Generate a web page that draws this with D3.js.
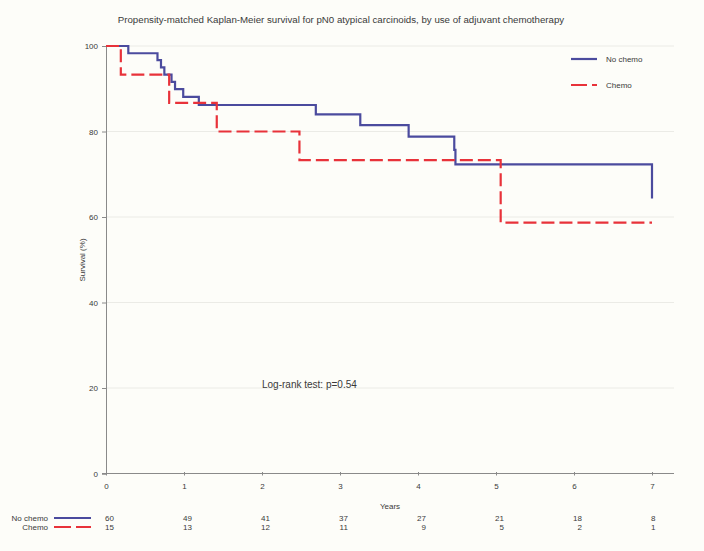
<!DOCTYPE html>
<html>
<head>
<meta charset="utf-8">
<script src="https://cdn.jsdelivr.net/npm/d3@7"></script>
<style>
  html, body { margin: 0; padding: 0; background: #fdfdf9; }
  svg { display: block; font-family: Arial, "Liberation Sans", sans-serif; }
</style>
</head>
<body>
<div id="chart"></div>
<script>
// ---- data ----
const title = "Propensity-matched Kaplan-Meier survival for pN0 atypical carcinoids, by use of adjuvant chemotherapy";
const seriesNames = ["No chemo", "Chemo"];
const noChemoTimes = [0, 0.286, 0.66, 0.705, 0.748, 0.84, 0.885, 0.99, 1.19, 2.69, 3.26, 3.88, 4.465, 4.48, 7.0];
const noChemoSurv  = [100, 98.3, 96.7, 95.0, 93.3, 91.6, 89.9, 88.1, 86.2, 84.0, 81.5, 78.8, 75.7, 72.3, 64.3];
const chemoTimes = [0, 0.19, 0.81, 1.42, 2.48, 5.06, 7.0];
const chemoSurv  = [100, 93.3, 86.7, 80.0, 73.3, 58.7, 58.7];
const xTicks = [0, 1, 2, 3, 4, 5, 6, 7];
const yTicks = [0, 20, 40, 60, 80, 100];
const atRiskNoChemo = [60, 49, 41, 37, 27, 21, 18, 8];
const atRiskChemo   = [15, 13, 12, 11, 9, 5, 2, 1];
const annotation = "Log-rank test: p=0.54";

// ---- layout ----
const W = 704, H = 551;
const svg = d3.select("#chart").append("svg").attr("width", W).attr("height", H);
svg.append("rect").attr("width", W).attr("height", H).attr("fill", "#fdfdf9");

const x = d3.scaleLinear().domain([0, 7]).range([106, 652]);
const y = d3.scaleLinear().domain([0, 100]).range([473.5, 46]);
const gridRight = 674;
const textColor = "#3a3a3a";
const axisColor = "#8a8a8a";
const blue = "#4b4b9e";
const red = "#e8323a";
const fontFam = "Arial, 'Liberation Sans', sans-serif";

// title
svg.append("text").attr("x", 341).attr("y", 23).attr("text-anchor", "middle")
  .attr("font-size", 9.7).attr("fill", textColor).text(title);

// gridlines
svg.append("g").selectAll("line").data(yTicks.filter(d => d > 0)).join("line")
  .attr("x1", x(0)).attr("x2", gridRight)
  .attr("y1", d => y(d)).attr("y2", d => y(d))
  .attr("stroke", "#ebebe6").attr("stroke-width", 1);

// axes
const yAxis = d3.axisLeft(y).tickValues(yTicks).tickSize(4).tickPadding(4).tickFormat(d3.format("d"));
const gy = svg.append("g").attr("transform", `translate(${x(0)},0)`).call(yAxis);
gy.select(".domain").attr("stroke", axisColor);
gy.selectAll(".tick line").attr("stroke", axisColor);
gy.selectAll(".tick text").attr("fill", textColor).attr("font-size", 8).attr("font-family", fontFam);

const xAxis = d3.axisBottom(x).tickValues(xTicks).tickSize(0).tickPadding(10).tickSizeOuter(0).tickFormat(d3.format("d"));
const gx = svg.append("g").attr("transform", `translate(0,${y(0)})`).call(xAxis);
gx.select(".domain").remove();
gx.append("line").attr("x1", x(0) - 4).attr("x2", gridRight).attr("y1", 0).attr("y2", 0).attr("stroke", axisColor);
gx.selectAll(".tick").append("line").attr("y1", -1.5).attr("y2", 2).attr("stroke", axisColor);
gx.selectAll(".tick text").attr("fill", textColor).attr("font-size", 8).attr("font-family", fontFam);

// axis titles
svg.append("text").attr("x", 390).attr("y", 509).attr("text-anchor", "middle")
  .attr("font-size", 8).attr("fill", textColor).text("Years");
svg.append("text").attr("transform", "translate(85,260) rotate(-90)").attr("text-anchor", "middle")
  .attr("font-size", 8).attr("fill", textColor).text("Survival (%)");

// curves
const line = d3.line().x(d => x(d[0])).y(d => y(d[1])).curve(d3.curveStepAfter);
const noChemoData = d3.zip(noChemoTimes, noChemoSurv);
const chemoData = d3.zip(chemoTimes, chemoSurv);
svg.append("path").datum(noChemoData).attr("d", line).attr("fill", "none")
  .attr("stroke", blue).attr("stroke-width", 2.2);
svg.append("path").datum(chemoData).attr("d", line).attr("fill", "none")
  .attr("stroke", red).attr("stroke-width", 2.2).attr("stroke-dasharray", "13,5");

// legend
const legend = [
  {name: seriesNames[0], color: blue, dash: null, y: 59},
  {name: seriesNames[1], color: red, dash: "16,5", y: 85}
];
const lg = svg.append("g");
legend.forEach(l => {
  lg.append("line").attr("x1", 571).attr("x2", 597).attr("y1", l.y).attr("y2", l.y)
    .attr("stroke", l.color).attr("stroke-width", 2.2).attr("stroke-dasharray", l.dash);
  lg.append("text").attr("x", 606).attr("y", l.y).attr("dy", "0.35em")
    .attr("font-size", 8).attr("fill", textColor).text(l.name);
});

// annotation
svg.append("text").attr("x", 262).attr("y", 384).attr("dy", "0.35em")
  .attr("font-size", 10).attr("fill", textColor).text(annotation);

// risk table
const rows = [
  {name: seriesNames[0], vals: atRiskNoChemo, color: blue, dash: null, y: 518},
  {name: seriesNames[1], vals: atRiskChemo, color: red, dash: "17,5", y: 527}
];
const rt = svg.append("g").attr("font-size", 8).attr("fill", textColor);
rows.forEach(r => {
  rt.append("text").attr("x", 48).attr("y", r.y).attr("dy", "0.35em").attr("text-anchor", "end").text(r.name);
  rt.append("line").attr("x1", 54).attr("x2", 91).attr("y1", r.y).attr("y2", r.y)
    .attr("stroke", r.color).attr("stroke-width", 2.2).attr("stroke-dasharray", r.dash);
});
xTicks.forEach((t, i) => {
  const maxDigits = Math.max(String(atRiskNoChemo[i]).length, String(atRiskChemo[i]).length);
  const anchorX = x(t) - 1 + maxDigits * 4.45;
  rows.forEach(r => {
    rt.append("text").attr("x", anchorX).attr("y", r.y).attr("dy", "0.35em")
      .attr("text-anchor", "end").text(r.vals[i]);
  });
});
</script>
</body>
</html>
